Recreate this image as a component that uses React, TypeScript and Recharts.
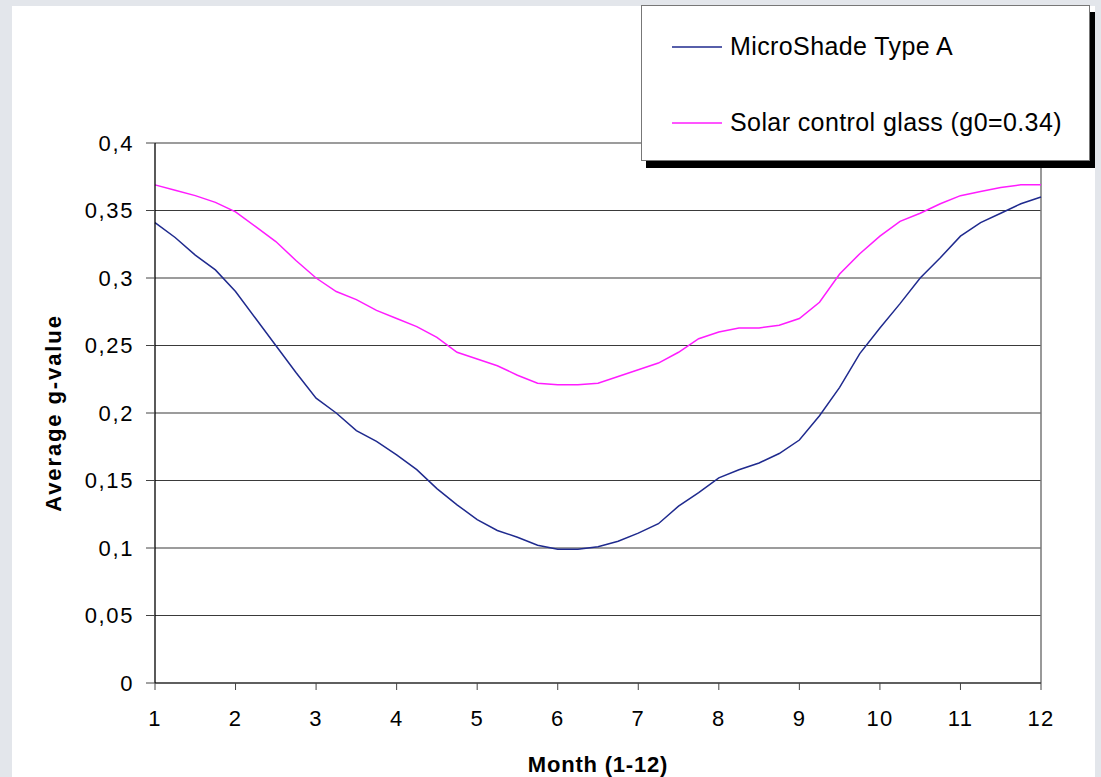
import React from 'react';
import { LineChart, Line, XAxis, YAxis, CartesianGrid, ReferenceLine } from 'recharts';

// month positions (quarter-month samples)
const months = [
  1, 1.25, 1.5, 1.75, 2, 2.25, 2.5, 2.75, 3, 3.25, 3.5, 3.75, 4, 4.25, 4.5, 4.75,
  5, 5.25, 5.5, 5.75, 6, 6.25, 6.5, 6.75, 7, 7.25, 7.5, 7.75, 8, 8.25, 8.5, 8.75,
  9, 9.25, 9.5, 9.75, 10, 10.25, 10.5, 10.75, 11, 11.25, 11.5, 11.75, 12,
];

const microShade = [
  0.341, 0.330, 0.317, 0.306, 0.290, 0.270, 0.250, 0.230, 0.211, 0.200, 0.187, 0.179,
  0.169, 0.158, 0.144, 0.132, 0.121, 0.113, 0.108, 0.102, 0.099, 0.099, 0.101, 0.105,
  0.111, 0.118, 0.131, 0.141, 0.152, 0.158, 0.163, 0.170, 0.180, 0.198, 0.219, 0.244,
  0.263, 0.281, 0.300, 0.315, 0.331, 0.341, 0.348, 0.355, 0.360,
];

const solarGlass = [
  0.369, 0.365, 0.361, 0.356, 0.349, 0.338, 0.327, 0.313, 0.300, 0.290, 0.284, 0.276,
  0.270, 0.264, 0.256, 0.245, 0.240, 0.235, 0.228, 0.222, 0.221, 0.221, 0.222, 0.227,
  0.232, 0.237, 0.245, 0.255, 0.260, 0.263, 0.263, 0.265, 0.270, 0.282, 0.303, 0.318,
  0.331, 0.342, 0.348, 0.355, 0.361, 0.364, 0.367, 0.369, 0.369,
];

const xTicks = [1, 2, 3, 4, 5, 6, 7, 8, 9, 10, 11, 12];
const yTicks = [0, 0.05, 0.1, 0.15, 0.2, 0.25, 0.3, 0.35, 0.4];

const series = [
  { key: 'micro', name: 'MicroShade Type A', color: '#1f2a8e' },
  { key: 'solar', name: 'Solar control glass (g0=0.34)', color: '#ff1cff' },
];

const data = months.map((m, i) => ({ month: m, micro: microShade[i], solar: solarGlass[i] }));

const FONT = '"Liberation Sans", Arial, sans-serif';

const YTitle = (props: any) => {
  const vb = props.viewBox || { y: 143, height: 540 };
  const cy = vb.y + vb.height / 2;
  return (
    <text
      transform={`translate(61, ${cy}) rotate(-90)`}
      textAnchor="middle"
      fontFamily={FONT}
      fontWeight="bold"
      fontSize={22}
      letterSpacing={1.9}
      fill="#000"
    >
      Average g-value
    </text>
  );
};

const XTitle = (props: any) => {
  const vb = props.viewBox || { x: 155, width: 886 };
  return (
    <text
      x={vb.x + vb.width / 2}
      y={772}
      textAnchor="middle"
      fontFamily={FONT}
      fontWeight="bold"
      fontSize={22}
      letterSpacing={0.8}
      fill="#000"
    >
      Month (1-12)
    </text>
  );
};

// legend box drawn over the plot, like the original
const LegendBox = () => (
  <div
    style={{
      position: 'absolute',
      left: 641,
      top: 5,
      width: 447,
      height: 154,
      background: '#fff',
      border: '1px solid #777',
      boxShadow: '5px 7px 0 #000',
      fontFamily: FONT,
      fontSize: 25,
      letterSpacing: 0.4,
      color: '#000',
    }}
  >
    {series.map((s, i) => (
      <div
        key={s.key}
        style={{ position: 'absolute', left: 30, top: i === 0 ? 26 : 102, display: 'flex', alignItems: 'center', whiteSpace: 'nowrap' }}
      >
        <svg width={50} height={4} style={{ marginRight: 8 }}>
          <line x1={0} y1={2} x2={50} y2={2} stroke={s.color} strokeWidth={1.5} />
        </svg>
        <span>{s.name}</span>
      </div>
    ))}
  </div>
);

export default function App() {
  return (
    <div style={{ position: 'relative', width: 1101, height: 777, background: '#e3e6eb', overflow: 'hidden' }}>
      <style>{`body{margin:0}`}</style>
      <div style={{ position: 'absolute', left: 12, top: 6, width: 1083, height: 771, background: '#fff' }} />
      <div style={{ position: 'absolute', left: 0, top: 0 }}>
        <LineChart width={1101} height={777} data={data} margin={{ top: 143, right: 60, bottom: 0, left: 0 }}>
          <CartesianGrid vertical={false} stroke="#3a3a3a" strokeWidth={1.2} />
          <XAxis
            dataKey="month"
            type="number"
            domain={[1, 12]}
            ticks={xTicks}
            height={94}
            tickSize={7}
            tickMargin={20}
            axisLine={{ stroke: '#222' }}
            tickLine={{ stroke: '#444' }}
            tick={{ fill: '#000', fontSize: 22, fontFamily: FONT, letterSpacing: 1.2 }}
            label={<XTitle />}
          />
          <YAxis
            type="number"
            domain={[0, 0.4]}
            ticks={yTicks}
            width={155}
            tickSize={9}
            tickMargin={12}
            axisLine={{ stroke: '#000', strokeWidth: 1.3 }}
            tickLine={{ stroke: '#444' }}
            tick={{ fill: '#000', fontSize: 22, fontFamily: FONT, letterSpacing: 1.6 }}
            tickFormatter={(v: number) => String(v).replace('.', ',')}
            label={<YTitle />}
          />
          <ReferenceLine x={12} stroke="#777" strokeWidth={1.5} />
          {series.map((s) => (
            <Line
              key={s.key}
              type="linear"
              dataKey={s.key}
              name={s.name}
              stroke={s.color}
              strokeWidth={1.5}
              dot={false}
              activeDot={false}
              isAnimationActive={false}
            />
          ))}
        </LineChart>
      </div>
      <LegendBox />
    </div>
  );
}
